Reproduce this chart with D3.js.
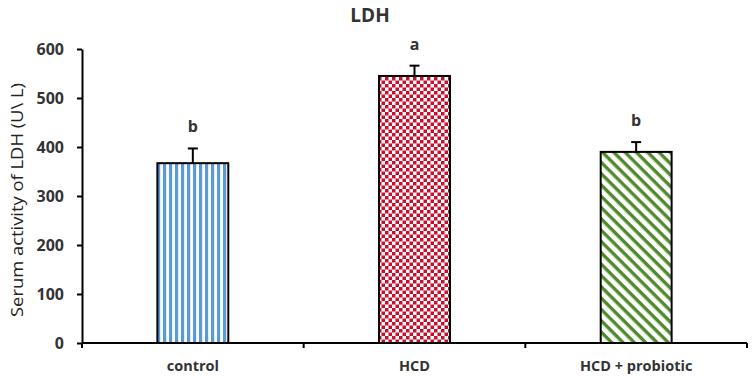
<!DOCTYPE html>
<html>
<head>
<meta charset="utf-8">
<script src="https://cdn.jsdelivr.net/npm/d3@7"></script>
<style>
  body { margin: 0; background: #fff; }
  text { font-family: "Open Sans", "Noto Sans", sans-serif; }
</style>
</head>
<body>
<div id="chart"></div>
<script>
// data van de grafiek
const groups = ["control", "HCD", "HCD + probiotic"]
const means = [367, 545, 390]
const errors = [30, 21, 20]
const letters = ["b", "a", "b"]
const yTicks = [0, 100, 200, 300, 400, 500, 600]

const width = 752
const height = 377
const margin = {top: 49, right: 5, bottom: 34, left: 82}

var svg = d3.select("#chart")
  .append("svg")
    .attr("width", width)
    .attr("height", height)

// patronen voor de bars
var defs = svg.append("defs")

var p1 = defs.append("pattern")
    .attr("id", "pat0")
    .attr("patternUnits", "userSpaceOnUse")
    .attr("width", 6).attr("height", 6)
p1.append("rect").attr("width", 6).attr("height", 6).attr("fill", "#fff")
p1.append("rect").attr("x", 1).attr("width", 3.2).attr("height", 6).attr("fill", "#5b9bd5")

var p2 = defs.append("pattern")
    .attr("id", "pat1")
    .attr("patternUnits", "userSpaceOnUse")
    .attr("width", 7).attr("height", 7)
p2.append("rect").attr("width", 7).attr("height", 7).attr("fill", "#fff")
p2.append("rect").attr("width", 3.5).attr("height", 3.5).attr("fill", "#c8102e")
p2.append("rect").attr("x", 3.5).attr("y", 3.5).attr("width", 3.5).attr("height", 3.5).attr("fill", "#c8102e")

var p3 = defs.append("pattern")
    .attr("id", "pat2")
    .attr("patternUnits", "userSpaceOnUse")
    .attr("width", 8).attr("height", 8)
    .attr("patternTransform", "rotate(45)")
p3.append("rect").attr("width", 8).attr("height", 8).attr("fill", "#fff")
p3.append("rect").attr("width", 8).attr("height", 3.4).attr("fill", "#4f8a2b")

// schalen
var x = d3.scaleBand()
    .domain(groups)
    .range([margin.left, width - margin.right])
    .paddingInner(0.68)
    .paddingOuter(0.34)

var band = d3.scaleBand()
    .domain(groups)
    .range([margin.left, width - margin.right])

var y = d3.scaleLinear()
    .domain([0, 600])
    .range([height - margin.bottom, margin.top])

// titel
svg.append("text")
    .attr("x", 370)
    .attr("y", 22)
    .attr("text-anchor", "middle")
    .attr("font-size", "19px")
    .attr("font-weight", "bold")
    .attr("fill", "#333")
    .text("LDH")

// y-as titel
svg.append("text")
    .attr("transform", "translate(23,200) rotate(-90)")
    .attr("text-anchor", "middle")
    .attr("font-size", "16px")
    .attr("fill", "#222")
    .attr("textLength", 234)
    .attr("lengthAdjust", "spacingAndGlyphs")
    .text("Serum activity of LDH (U\\ L)")

// y-as
var yAxis = svg.append("g")
    .attr("transform", "translate(" + margin.left + ",0)")
    .call(d3.axisLeft(y).tickValues(yTicks).tickSize(5).tickSizeOuter(0))
yAxis.select(".domain").attr("stroke", "#000").attr("stroke-width", 2)
yAxis.selectAll(".tick line").attr("stroke", "#000").attr("stroke-width", 2)
yAxis.selectAll("text")
    .attr("font-size", "16px")
    .attr("font-weight", "bold")
    .attr("fill", "#333")
    .attr("x", -18)
    .attr("dy", "0.35em")
    .style("font-family", "'Open Sans', sans-serif")

// x-as lijn met ticks op de grenzen
var xg = svg.append("g")
xg.append("line")
    .attr("x1", margin.left).attr("x2", width - margin.right)
    .attr("y1", y(0)).attr("y2", y(0))
    .attr("stroke", "#000").attr("stroke-width", 2)
var bounds = groups.map(function(g) { return band(g) }).concat([band(groups[2]) + band.bandwidth()])
xg.selectAll(".xtick")
    .data(bounds)
    .enter()
    .append("line")
    .attr("x1", function(d) { return d }).attr("x2", function(d) { return d })
    .attr("y1", y(0)).attr("y2", y(0) + 5)
    .attr("stroke", "#000").attr("stroke-width", 2)

xg.selectAll(".xlab")
    .data(groups)
    .enter()
    .append("text")
    .attr("x", function(d) { return x(d) + x.bandwidth() / 2 })
    .attr("y", y(0) + 28)
    .attr("text-anchor", "middle")
    .attr("font-size", "14.5px")
    .attr("font-weight", "bold")
    .attr("fill", "#333")
    .text(function(d) { return d })

// bars
svg.append("g")
  .selectAll("rect")
    .data(groups)
    .enter()
    .append("rect")
    .attr("x", function(d) { return x(d) })
    .attr("y", function(d, i) { return y(means[i]) })
    .attr("width", x.bandwidth())
    .attr("height", function(d, i) { return y(0) - y(means[i]) })
    .attr("fill", function(d, i) { return "url(#pat" + i + ")" })
    .attr("stroke", "#000")
    .attr("stroke-width", 2)

// error bars
var eb = svg.append("g")
eb.selectAll(".evert")
    .data(groups)
    .enter()
    .append("line")
    .attr("x1", function(d) { return x(d) + x.bandwidth() / 2 })
    .attr("x2", function(d) { return x(d) + x.bandwidth() / 2 })
    .attr("y1", function(d, i) { return y(means[i]) })
    .attr("y2", function(d, i) { return y(means[i] + errors[i]) })
    .attr("stroke", "#000").attr("stroke-width", 2)
eb.selectAll(".ecap")
    .data(groups)
    .enter()
    .append("line")
    .attr("x1", function(d) { return x(d) + x.bandwidth() / 2 - 5 })
    .attr("x2", function(d) { return x(d) + x.bandwidth() / 2 + 5 })
    .attr("y1", function(d, i) { return y(means[i] + errors[i]) })
    .attr("y2", function(d, i) { return y(means[i] + errors[i]) })
    .attr("stroke", "#000").attr("stroke-width", 2)

// letters boven de bars
svg.append("g")
  .selectAll("text")
    .data(groups)
    .enter()
    .append("text")
    .attr("x", function(d) { return x(d) + x.bandwidth() / 2 })
    .attr("y", function(d, i) { return y(means[i] + errors[i]) - 16 })
    .attr("text-anchor", "middle")
    .attr("font-size", "16px")
    .attr("font-weight", "bold")
    .attr("fill", "#333")
    .text(function(d, i) { return letters[i] })
</script>
</body>
</html>
